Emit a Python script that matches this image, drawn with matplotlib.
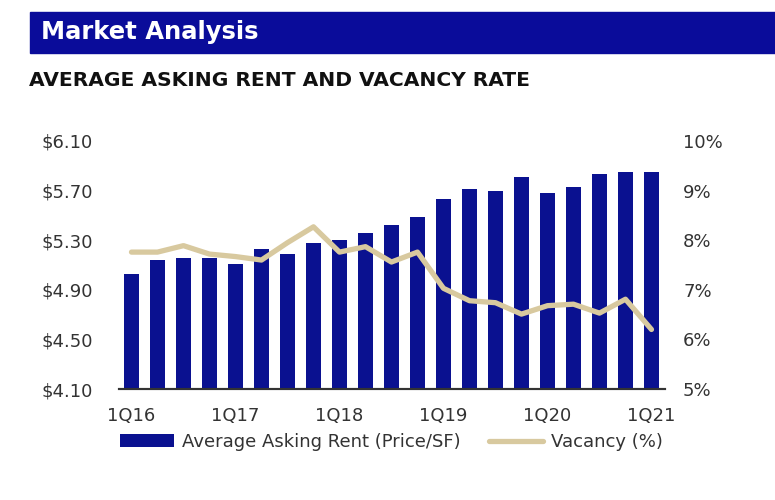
import matplotlib.pyplot as plt
import numpy as np
from matplotlib.patches import Rectangle

plt.rcParams["font.family"] = ["DejaVu Sans"]

quarters = [f"{q}Q{y}" for y in range(16, 22) for q in range(1, 5)][:21]
tick_labels = ["1Q16", "1Q17", "1Q18", "1Q19", "1Q20", "1Q21"]

rent = [5.03, 5.14, 5.16, 5.16, 5.11, 5.23, 5.19, 5.28, 5.30, 5.36, 5.42,
        5.49, 5.63, 5.71, 5.70, 5.81, 5.68, 5.73, 5.83, 5.85, 5.85]
vacancy = [7.76, 7.76, 7.89, 7.72, 7.67, 7.60, 7.95, 8.27, 7.76, 7.87, 7.56,
           7.76, 7.03, 6.78, 6.74, 6.51, 6.68, 6.71, 6.53, 6.81, 6.20]

bar_color = "#0a1190"
line_color = "#d8c99f"
text_color = "#333333"

fig = plt.figure(figsize=(7.75, 5), dpi=100)

# header band
fig.patches.append(Rectangle((30 / 775, 1 - 53 / 500), 1, 41 / 500,
                             transform=fig.transFigure, color="#0a0c9a", zorder=0))
fig.text(41 / 775, 1 - 32 / 500, "Market Analysis", color="white", fontsize=17.5,
         fontweight="bold", va="center", ha="left")
fig.text(29 / 775, 1 - 80 / 500, "AVERAGE ASKING RENT AND VACANCY RATE",
         color="#111111", fontsize=14.6, fontweight="bold", va="center", ha="left")

ax = fig.add_axes([119 / 775, 1 - 389 / 500, (665 - 119) / 775, (389 - 141) / 500])
x = np.arange(len(rent))
ax.bar(x, rent, width=0.58, color=bar_color, label="Average Asking Rent (Price/SF)")
ax.set_ylim(4.10, 6.10)
ax.set_xlim(-0.48, 20.52)
ax.set_yticks(np.arange(4.10, 6.11, 0.40))
ax.yaxis.set_major_formatter(plt.FuncFormatter(lambda v, _: f"${v:.2f}"))
ax.set_xticks([quarters.index(t) for t in tick_labels])
ax.set_xticklabels(tick_labels)

ax2 = ax.twinx()
ax2.plot(x, vacancy, color=line_color, linewidth=3.8, solid_capstyle="round",
         solid_joinstyle="round", label="Vacancy (%)")
ax2.set_ylim(5, 10)
ax2.set_yticks(range(5, 11))
ax2.yaxis.set_major_formatter(plt.FuncFormatter(lambda v, _: f"{int(v)}%"))

for a in (ax, ax2):
    for side in ("top", "left", "right"):
        a.spines[side].set_visible(False)
    a.spines["bottom"].set_color("#333333")
    a.spines["bottom"].set_linewidth(1.5)
    a.tick_params(length=0, labelsize=13, colors=text_color)
ax.tick_params(axis="y", pad=18.7)
ax.tick_params(axis="x", pad=13)
ax2.tick_params(axis="y", pad=13)

handles = [ax.patches[0], ax2.lines[0]]
labels = ["Average Asking Rent (Price/SF)", "Vacancy (%)"]
fig.legend(handles, labels, loc="center left", bbox_to_anchor=(104 / 775, 1 - 442 / 500),
           ncol=2, frameon=False, fontsize=13, handlelength=3.0, handletextpad=0.4,
           columnspacing=1.6, labelcolor=text_color)

fig.savefig("out.png", dpi=100)
